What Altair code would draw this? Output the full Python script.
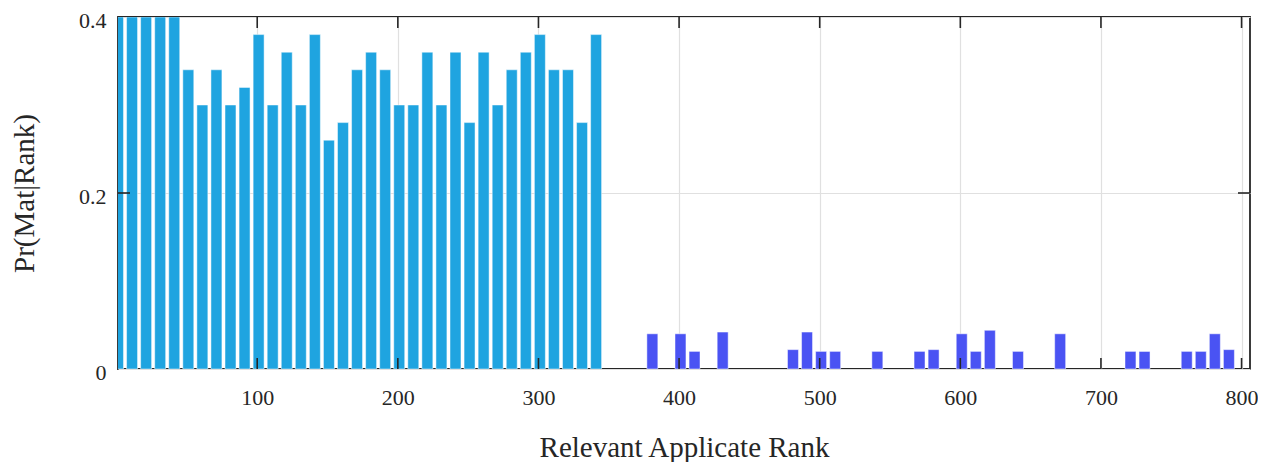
import altair as alt
import pandas as pd

# ---- data ----
blue_centers = list(range(1, 342, 10))
blue_values = [0.40, 0.40, 0.40, 0.40, 0.40, 0.34, 0.30, 0.34, 0.30, 0.32,
               0.38, 0.30, 0.36, 0.30, 0.38, 0.26, 0.28, 0.34, 0.36, 0.34,
               0.30, 0.30, 0.36, 0.30, 0.36, 0.28, 0.36, 0.30, 0.34, 0.36,
               0.38, 0.34, 0.34, 0.28, 0.38]
purple_centers = [381, 401, 411, 431, 481, 491, 501, 511, 541, 571, 581,
                  601, 611, 621, 641, 671, 721, 731, 761, 771, 781, 791]
purple_values = [0.040, 0.040, 0.020, 0.042, 0.022, 0.042, 0.020, 0.020,
                 0.020, 0.020, 0.022, 0.040, 0.020, 0.044, 0.020, 0.040,
                 0.020, 0.020, 0.020, 0.020, 0.040, 0.022]
x_ticks = [100, 200, 300, 400, 500, 600, 700, 800]
y_ticks = [0, 0.2, 0.4]
half_width = 3.9

W, H = 1132, 352
BLUE = "#1fa4e0"
PURPLE = "#4a53f3"
INK = "#262626"
FONT = "Liberation Serif"

rows = []
for c, v in zip(blue_centers, blue_values):
    rows.append({"x0": c - half_width, "x1": c + half_width, "v": v, "grp": "top"})
for c, v in zip(purple_centers, purple_values):
    rows.append({"x0": c - half_width, "x1": c + half_width, "v": v, "grp": "rest"})
bars_df = pd.DataFrame(rows)
xt_df = pd.DataFrame({"t": x_ticks})
yt_df = pd.DataFrame({"t": [0.2]})

xscale = alt.Scale(domain=[1, 806], nice=False, zero=False)
yscale = alt.Scale(domain=[0, 0.4], nice=False)
xaxis = alt.Axis(values=x_ticks, format="d", title="Relevant Applicate Rank",
                 grid=True, gridColor="#e0e0e0", gridWidth=1.2,
                 domain=False, ticks=False, labelFontSize=22, labelPadding=18,
                 labelFont=FONT, labelColor=INK, titleFont=FONT, titleFontSize=29,
                 titleFontWeight="normal", titleColor=INK,
                 titleBaseline="alphabetic", titleY=87)
yaxis = alt.Axis(values=y_ticks, format="~g", title="Pr(Mat|Rank)",
                 grid=True, gridColor="#e0e0e0", gridWidth=1.2,
                 domain=False, ticks=False, labelFontSize=22, labelPadding=12,
                 labelOffset=3, labelFont=FONT, labelColor=INK, titleFont=FONT,
                 titleFontSize=29, titleFontWeight="normal", titleColor=INK,
                 titleBaseline="alphabetic", titleX=-85)

bars = alt.Chart(bars_df).mark_bar(clip=True, stroke="white", strokeWidth=0.8,
                                    strokeOpacity=0.6).encode(
    x=alt.X("x0:Q", scale=xscale, axis=xaxis),
    x2="x1:Q",
    y=alt.Y("v:Q", scale=yscale, axis=yaxis),
    y2=alt.datum(0),
    color=alt.Color("grp:N", scale=alt.Scale(domain=["top", "rest"], range=[BLUE, PURPLE]),
                    legend=None),
)

tick_style = dict(color=INK, strokeWidth=1.6)
x_bottom = alt.Chart(xt_df).mark_rule(**tick_style).encode(
    x=alt.X("t:Q", scale=xscale, axis=xaxis), y=alt.value(H), y2=alt.value(H - 11))
x_top = alt.Chart(xt_df).mark_rule(**tick_style).encode(
    x=alt.X("t:Q", scale=xscale, axis=xaxis), y=alt.value(0), y2=alt.value(11))
y_left = alt.Chart(yt_df).mark_rule(**tick_style).encode(
    y=alt.Y("t:Q", scale=yscale, axis=yaxis), x=alt.value(0), x2=alt.value(12))
y_right = alt.Chart(yt_df).mark_rule(**tick_style).encode(
    y=alt.Y("t:Q", scale=yscale, axis=yaxis), x=alt.value(W), x2=alt.value(W - 12))

chart = alt.layer(bars, x_bottom, x_top, y_left, y_right).properties(
    width=W, height=H,
    autosize=alt.AutoSizeParams(type="none"),
    padding={"left": 110, "top": 9, "right": 8, "bottom": 93},
    background="white",
).configure_view(stroke=INK, strokeWidth=1.8)

chart.save("out.html", embed_options={"renderer": "svg", "actions": False})
